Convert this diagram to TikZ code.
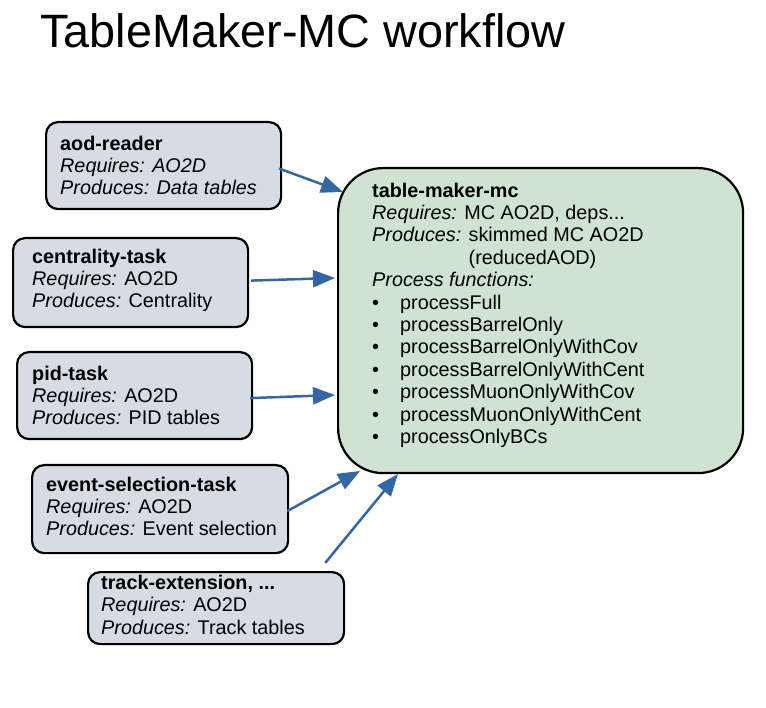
\documentclass[tikz,border=0pt]{standalone}
\usepackage{fontspec}
\setmainfont{Liberation Sans}
\usetikzlibrary{arrows.meta}
\definecolor{boxgray}{RGB}{214,220,228}
\definecolor{boxgreen}{RGB}{208,227,210}
\definecolor{arrblue}{RGB}{52,101,164}
\begin{document}
\begin{tikzpicture}[x=1pt,y=-1pt,
  taskbox/.style={draw=black, line width=2.2pt, fill=boxgray, rounded corners=12pt, anchor=north west, inner sep=0pt},
  mainbox/.style={draw=black, line width=2.2pt, fill=boxgreen, rounded corners=45pt, anchor=north west, inner sep=0pt},
  txt/.style={anchor=north west, inner sep=0pt, align=left, font=\fontsize{19.8}{22.3}\selectfont},
  arr/.style={draw=arrblue, line width=2.5pt, -{Triangle[length=22pt,width=17pt]}}]
\useasboundingbox (0,0) rectangle (766,708);
\node[anchor=base west, inner sep=0pt, font=\fontsize{46.8}{50}\selectfont] (title) at (40,48) {TableMaker-MC workflow};

% boxes
\node[taskbox, minimum width=235pt, minimum height=87pt] (aod) at (45,121) {};
\node[taskbox, minimum width=235pt, minimum height=89pt] (cent) at (12,237) {};
\node[taskbox, minimum width=235pt, minimum height=87pt] (pid) at (16,351) {};
\node[taskbox, minimum width=256pt, minimum height=88pt] (evsel) at (31,464) {};
\node[taskbox, minimum width=256pt, minimum height=72pt] (track) at (87,571) {};
\node[mainbox, minimum width=405pt, minimum height=305pt] (main) at (337,167) {};

% texts
\node[txt] (aodtxt) at ([shift={(15,14.5)}]aod.north west)
  {\textbf{aod-reader}\\ \textit{Requires: AO2D}\\ \textit{Produces: Data tables}};
\node[txt] (centtxt) at ([shift={(20,11.5)}]cent.north west)
  {\textbf{centrality-task}\\ \textit{Requires:} AO2D\\ \textit{Produces:} Centrality};
\node[txt] (pidtxt) at ([shift={(16,14.5)}]pid.north west)
  {\textbf{pid-task}\\ \textit{Requires:} AO2D\\ \textit{Produces:} PID tables};
\node[txt] (evseltxt) at ([shift={(15,12.5)}]evsel.north west)
  {\textbf{event-selection-task}\\ \textit{Requires:} AO2D\\ \textit{Produces:} Event selection};
\node[txt] (tracktxt) at ([shift={(14,4)}]track.north west)
  {\textbf{track-extension, ...}\\ \textit{Requires:} AO2D\\ \textit{Produces:} Track tables};
\node[txt, font=\fontsize{19.8}{22.4}\selectfont] (maintxt) at ([shift={(35,15.5)}]main.north west)
  {\textbf{table-maker-mc}\\
   \textit{Requires:} MC AO2D, deps...\\
   \textit{Produces:} skimmed MC AO2D\\
   \hphantom{\textit{Produces:} }(reducedAOD)\\
   \textit{Process functions:}\\
   \makebox[28pt][l]{•}processFull\\
   \makebox[28pt][l]{•}processBarrelOnly\\
   \makebox[28pt][l]{•}processBarrelOnlyWithCov\\
   \makebox[28pt][l]{•}processBarrelOnlyWithCent\\
   \makebox[28pt][l]{•}processMuonOnlyWithCov\\
   \makebox[28pt][l]{•}processMuonOnlyWithCent\\
   \makebox[28pt][l]{•}processOnlyBCs};

% arrow tips
\coordinate (t1) at (343,192);
\coordinate (t2) at (335,278);
\coordinate (t3) at (335,395);
\coordinate (t4) at (360,471);
\coordinate (t5) at (398,474);
\coordinate (s5) at ([shift={(-20,-8)}]track.north east);

\draw[arr] ([shift={(-3,3)}]aod.east) -- (t1);
\draw[arr] ([shift={(2,-2)}]cent.east) -- (t2);
\draw[arr] ([shift={(-3,2.5)}]pid.east) -- (t3);
\draw[arr] ([shift={(-2,2)}]evsel.east) -- (t4);
\draw[arr] (s5) -- (t5);
\end{tikzpicture}
\end{document}
